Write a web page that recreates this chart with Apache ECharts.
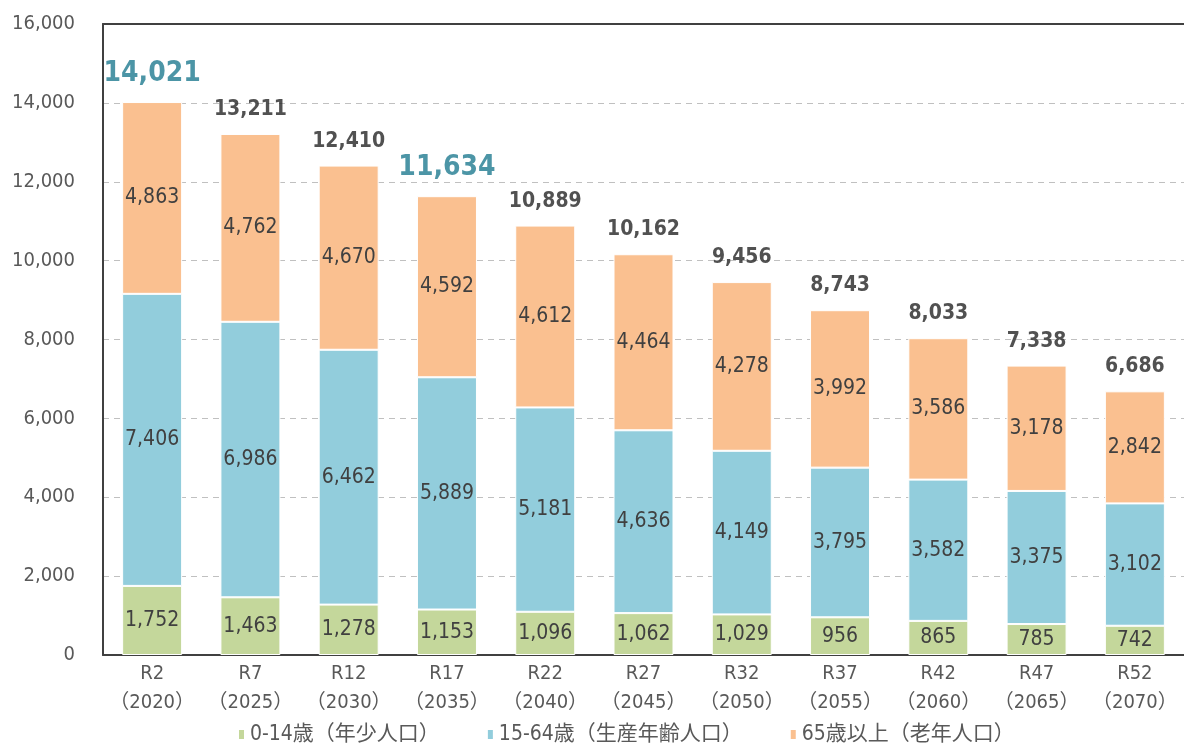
<!DOCTYPE html>
<html><head><meta charset="utf-8">
<script src="https://cdn.jsdelivr.net/npm/echarts@6/dist/echarts.min.js"></script>
<style>html,body{margin:0;padding:0;background:#fff}#c{width:1184px;height:746px}</style>
</head><body><div id="c"></div>
<script>
const categories = ['R2\n（2020）','R7\n（2025）','R12\n（2030）','R17\n（2035）','R22\n（2040）','R27\n（2045）','R32\n（2050）','R37\n（2055）','R42\n（2060）','R47\n（2065）','R52\n（2070）'];
const young = [1752,1463,1278,1153,1096,1062,1029,956,865,785,742];
const working = [7406,6986,6462,5889,5181,4636,4149,3795,3582,3375,3102];
const elderly = [4863,4762,4670,4592,4612,4464,4278,3992,3586,3178,2842];
const totals = [14021,13211,12410,11634,10889,10162,9456,8743,8033,7338,6686];
const highlighted = [0,3];
const seriesNames = ['0-14歳（年少人口）','15-64歳（生産年齢人口）','65歳以上（老年人口）'];
const yTicks = [0,2000,4000,6000,8000,10000,12000,14000,16000];

const FONT = '"DejaVu Sans Condensed","Liberation Sans Narrow","Noto Sans CJK JP",sans-serif';
const fmt = v => v.toLocaleString('en-US');
const chart = echarts.init(document.getElementById('c'));
const mkBar = (name, data, color) => ({
  name, type:'bar', stack:'pop', data, barWidth:60,
  itemStyle:{color, borderColor:'#fff', borderWidth:1},
  label:{show:true, position:'inside', formatter:p=>fmt(p.value), color:'#404040', fontSize:21, fontFamily:FONT},
  emphasis:{disabled:true}
});
chart.setOption({
  animation:false,
  textStyle:{fontFamily:FONT},
  grid:{left:103, top:24, width:1098, bottom:91, containLabel:false},
  legend:{top:719, left:232, itemWidth:7, itemHeight:11, itemGap:46, icon:'rect',
    data:seriesNames, textStyle:{fontSize:21, color:'#595959', fontFamily:FONT}},
  xAxis:[{type:'category', data:categories,
    axisLine:{lineStyle:{color:'#404040', width:2}}, axisTick:{show:false},
    axisLabel:{interval:0, fontSize:20, color:'#595959', lineHeight:29, margin:4, fontFamily:FONT}},
    {type:'category', data:categories, position:'top',
    axisLine:{show:true, lineStyle:{color:'#404040', width:2}}, axisTick:{show:false}, axisLabel:{show:false}, splitLine:{show:false}}],
  yAxis:{type:'value', min:0, max:16000, interval:2000,
    axisLine:{show:true, lineStyle:{color:'#404040', width:2}}, axisTick:{show:false},
    splitLine:{lineStyle:{color:'#c0c0c0', type:[6,5], width:1}},
    axisLabel:{fontSize:20, color:'#595959', margin:28, formatter:v=>yTicks.includes(v)?fmt(v):'', fontFamily:FONT}},
  series:[
    mkBar(seriesNames[0], young, '#c4d79b'),
    mkBar(seriesNames[1], working, '#92cddc'),
    mkBar(seriesNames[2], elderly, '#fac090'),
    {name:'total', type:'scatter', data:totals, symbolSize:0, silent:true,
      label:{show:true, position:'top', distance:14, formatter:p=>highlighted.includes(p.dataIndex)?'{h|'+fmt(p.value)+'}':'{n|'+fmt(p.value)+'}',
        rich:{
          n:{fontSize:21, fontWeight:'bold', color:'#262626', fontFamily:FONT},
          h:{fontSize:28, fontWeight:'bold', color:'#1f7a90', fontFamily:FONT}
        }}}
  ]
});
</script></body></html>
